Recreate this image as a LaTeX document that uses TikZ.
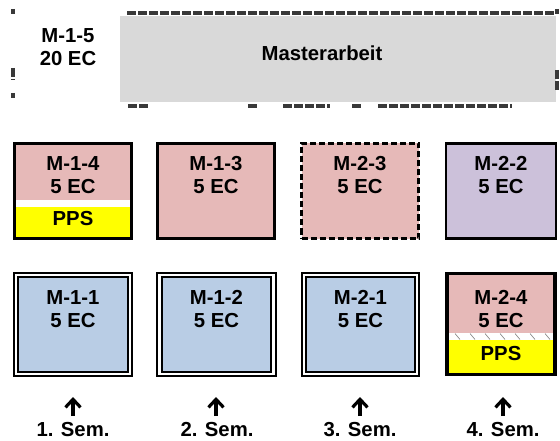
\documentclass[tikz,border=0pt]{standalone}
\usepackage{fontspec}
\setmainfont{Liberation Sans}
\usetikzlibrary{arrows.meta}
\definecolor{cpink}{HTML}{E6B9B8}
\definecolor{cblue}{HTML}{B9CDE5}
\definecolor{cpurple}{HTML}{CCC1DA}
\definecolor{cgray}{HTML}{D9D9D9}
\definecolor{cyel}{HTML}{FFFF00}
\tikzset{
  modbox/.style={draw=black, line width=2.6pt, inner sep=0pt, minimum width=117pt, minimum height=95pt},
  dblbox/.style={draw=black, line width=2pt, inner sep=0pt, minimum width=114pt, minimum height=99pt, fill=cblue,
     double=white, double distance=2.2pt},
  lbl/.style={font=\bfseries\fontsize{20.3}{23.5}\selectfont, align=center, inner sep=0pt},
  semlbl/.style={font=\bfseries\fontsize{20.3}{23}\selectfont, inner sep=0pt},
  semarrow/.style={line width=3.2pt, -{Straight Barb[length=8pt,width=15pt,line width=3.2pt]}},
  hatch/.style={draw=gray!45!black, line width=4pt, dash pattern=on 9pt off 2pt},
}
\begin{document}
\begin{tikzpicture}[x=1pt,y=-1pt]
\useasboundingbox (0,0) rectangle (560,441);
% top region
\fill[cgray] (120,16) rectangle (556,102);
\draw[hatch] (127,13.5) -- (554,13.5);
\draw[hatch] (128,106) -- (148,106);
\draw[hatch] (248,106) -- (258,106);
\draw[hatch] (283,106) -- (330,106);
\draw[hatch] (352,106) -- (362,106);
\draw[hatch] (378,106) -- (512,106);
\draw[hatch] (13,9) -- (13,14);
\draw[hatch] (13,68) -- (13,80);
\draw[hatch] (13,93) -- (13,98);
\draw[hatch] (557,9) -- (557,14);
\draw[hatch] (557,70) -- (557,90);
\node[lbl] (m15) at (68,47) {M-1-5\\20 EC};
\node[lbl] (ma) at (322,53) {Masterarbeit};
% row 2
\node[modbox, fill=cpink] (m14) at (73,191) {};
\fill[white] (14.5,200) rectangle (131.5,207);
\fill[cyel] (14.5,207) rectangle (131.5,238.5);
\draw[line width=2.6pt] (14.3,143.3) rectangle (131.7,238.7);
\node[lbl] (t14) at (73,175) {M-1-4\\5 EC};
\node[lbl] (pps1) at (73,219) {PPS};
\node[modbox, fill=cpink] (m13) at (216,191) {};
\node[lbl] (t13) at (216,175) {M-1-3\\5 EC};
\node[modbox, fill=cpink, dash pattern=on 6pt off 3pt] (m23) at (360,191) {};
\node[lbl] (t23) at (360,175) {M-2-3\\5 EC};
\node[modbox, fill=cpurple, minimum width=110pt] (m22) at (501,191) {};
\node[lbl] (t22) at (501,175) {M-2-2\\5 EC};
% row 3
\node[dblbox] (m11) at (73,324.5) {};
\node[lbl] (t11) at (73,309) {M-1-1\\5 EC};
\node[dblbox] (m12) at (216.5,324.5) {};
\node[lbl] (t12) at (216.5,309) {M-1-2\\5 EC};
\node[dblbox, minimum width=113pt] (m21) at (360.5,324.5) {};
\node[lbl] (t21) at (360.5,309) {M-2-1\\5 EC};
\node[modbox, fill=cpink, minimum width=110pt, minimum height=101pt] (m24) at (501,324) {};
\fill[white] (447.5,333) rectangle (554.5,340);
\fill[cyel] (447.5,340) rectangle (554.5,372.5);
\foreach \i in {0,...,6} {
  \draw[gray, line width=0.6pt] (455+\i*15,333.5) -- (460+\i*15,339.5);
}
\draw[line width=2.6pt] (447.3,273.7) rectangle (554.7,374.3);
\node[lbl] (t24) at (501,309) {M-2-4\\5 EC};
\node[lbl] (pps2) at (501,354) {PPS};
% semesters
\node[semlbl] (s1) at (73,430) {1. Sem.};
\node[semlbl] (s2) at (217,430) {2. Sem.};
\node[semlbl] (s3) at (360,430) {3. Sem.};
\node[semlbl] (s4) at (503,430) {4. Sem.};
\foreach \n/\x in {1/73,2/216,3/360,4/503} {
  \coordinate (b\n) at (\x,416);
  \coordinate (t\n) at (\x,397);
  \draw[semarrow] (b\n) -- (t\n);
}
\end{tikzpicture}
\end{document}
